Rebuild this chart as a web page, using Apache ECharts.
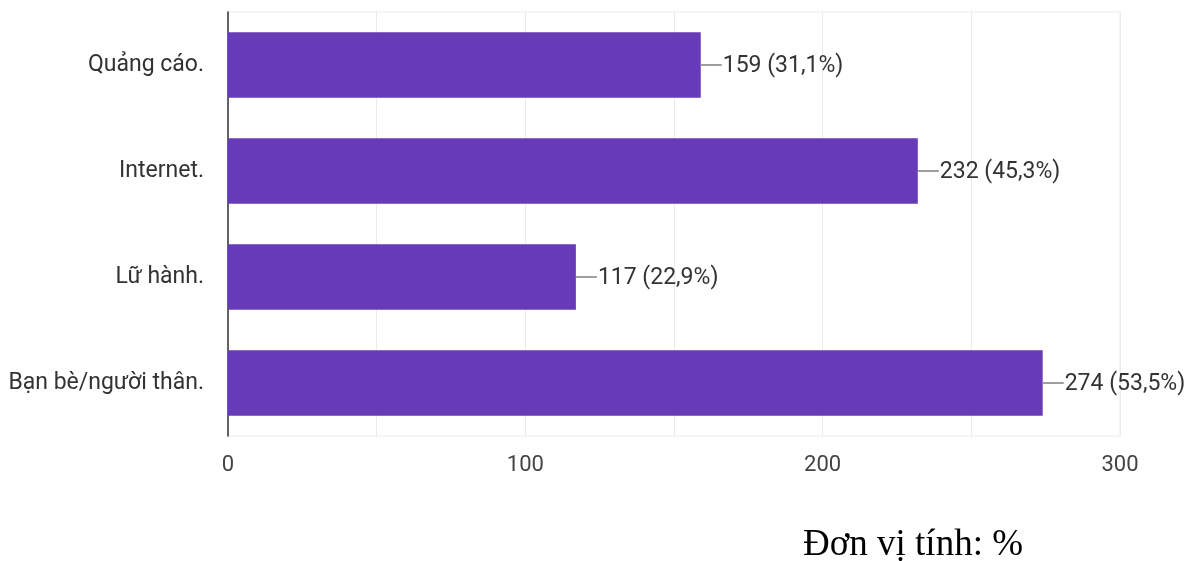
<!DOCTYPE html>
<html>
<head>
<meta charset="utf-8">
<script src="https://cdn.jsdelivr.net/npm/echarts@6/dist/echarts.min.js"></script>
<style>html,body{margin:0;padding:0;background:#fff;}#c{width:1201px;height:561px;}</style>
</head>
<body>
<div id="c"></div>
<script>
const categories = ['Quảng cáo.', 'Internet.', 'Lữ hành.', 'Bạn bè/người thân.'];
const counts = [159, 232, 117, 274];
const percents = ['31,1%', '45,3%', '22,9%', '53,5%'];
const xTicks = [0, 100, 200, 300];

const chart = echarts.init(document.getElementById('c'));
chart.setOption({
  animation: false,
  backgroundColor: '#fff',
  grid: { left: 228, right: 81, top: 12, bottom: 125, show: true, borderColor: '#ebebeb', borderWidth: 1 },
  xAxis: {
    type: 'value', min: 0, max: 300, interval: 50,
    axisLine: { show: false }, axisTick: { show: false },
    splitLine: { lineStyle: { color: '#ebebeb', width: 1 } },
    axisLabel: {
      margin: 18, fontFamily: 'Roboto', fontSize: 22, color: '#444',
      formatter: v => xTicks.includes(v) ? String(v) : ''
    }
  },
  yAxis: {
    type: 'category', data: categories, inverse: true,
    axisLine: { lineStyle: { color: '#333', width: 1.5 } },
    axisTick: { show: false },
    axisLabel: { margin: 24, fontFamily: 'Roboto', fontSize: 23, color: '#333', padding: [5, 0, 0, 0] }
  },
  series: [{
    type: 'bar',
    data: counts,
    barCategoryGap: '38%',
    itemStyle: { color: '#673ab7' },
    label: {
      show: true, position: 'right', distance: 0,
      formatter: p => '{l|}{t|' + counts[p.dataIndex] + ' (' + percents[p.dataIndex] + ')}',
      rich: {
        l: { width: 21, height: 2, backgroundColor: '#9e9e9e', verticalAlign: 'middle' },
        t: { fontFamily: 'Roboto', fontSize: 23, color: '#333', padding: [3, 0, 0, 1], verticalAlign: 'middle' }
      }
    }
  }],
  graphic: [{
    type: 'text', left: 803, top: 527,
    style: { text: 'Đơn vị tính: %', font: '37px "Liberation Serif"', fill: '#000' }
  }]
});
</script>
</body>
</html>
